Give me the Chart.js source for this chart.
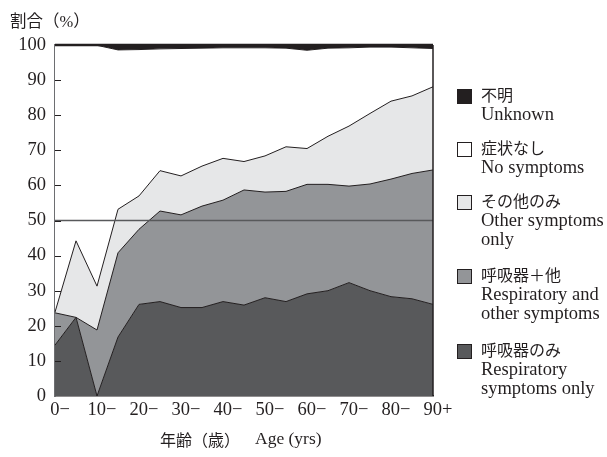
<!DOCTYPE html>
<html>
<head>
<meta charset="utf-8">
<script src="https://cdn.jsdelivr.net/npm/chart.js@4.4.1/dist/chart.umd.min.js"></script>
<style>
    body { margin: 0; background: #fff; }
    #wrap { position: relative; width: 607px; height: 457px; font-family: "Liberation Serif", "Noto Sans CJK JP", serif; color: #231f20; }
    canvas { position: absolute; left: 0; top: 0; }
    .txt { position: absolute; white-space: nowrap; }
    .legend-item { position: absolute; left: 457px; font-size: 16px; line-height: 18px; }
    .legend-item .box { position: absolute; left: 0; top: 2px; width: 13px; height: 13px; border: 1px solid #231f20; }
    .legend-item .lbl { position: absolute; left: 24px; top: 0; white-space: nowrap; }
    .legend-item .en { font-size: 18.5px; }
</style>
</head>
<body>
<div id="wrap">
    <canvas id="chart" width="607" height="457"></canvas>
    <div class="txt" style="left:10px; top:8px; font-size:16.5px;">割合（%）</div>
    <div class="txt" style="left:160px; top:427px; font-size:16px;">年齢（歳）</div>
    <div class="txt" style="left:255px; top:428px; font-size:17.5px;">Age (yrs)</div>
    <div id="legend"></div>
</div>
<script>
// Age groups (5-year bands)
const ages = ['0−', '5−', '10−', '15−', '20−', '25−', '30−', '35−', '40−', '45−',
              '50−', '55−', '60−', '65−', '70−', '75−', '80−', '85−', '90+'];

// Share of each symptom category (%), bottom layer first
const respiratoryOnly = [14.5, 22.4, 0.0, 16.8, 26.1, 26.9, 25.2, 25.2, 26.9, 25.9,
                         28.0, 26.9, 29.1, 30.0, 32.3, 30.0, 28.3, 27.7, 26.1];
const respiratoryOther = [9.2, 0.0, 18.8, 24.0, 21.4, 25.8, 26.4, 28.9, 28.9, 32.8,
                          30.1, 31.4, 31.2, 30.3, 27.5, 30.4, 33.5, 35.7, 38.3];
const otherOnly = [0.2, 21.8, 12.5, 12.4, 9.5, 11.5, 11.1, 11.4, 11.9, 8.1,
                   10.3, 12.7, 10.2, 13.7, 17.1, 20.1, 22.2, 22.1, 23.7];
const noSymptoms = [76.0, 55.7, 68.6, 45.4, 41.7, 34.7, 36.3, 33.6, 31.5, 32.4,
                    30.8, 28.1, 28.0, 25.1, 22.3, 18.9, 15.4, 13.7, 10.9];
const unknown = [0.1, 0.1, 0.1, 1.4, 1.3, 1.1, 1.0, 0.9, 0.8, 0.8,
                 0.8, 0.9, 1.5, 0.9, 0.8, 0.6, 0.6, 0.8, 1.0];

const yTicks = [0, 10, 20, 30, 40, 50, 60, 70, 80, 90, 100];

const colors = {
    black: '#231f20',
    dark: '#58595b',
    mid: '#939598',
    light: '#e6e7e8',
    white: '#ffffff'
};

// Legend entries, top to bottom (Japanese line + English lines)
const legendItems = [
    { jp: '不明', en: ['Unknown'], color: colors.black, top: 87 },
    { jp: '症状なし', en: ['No symptoms'], color: colors.white, top: 140 },
    { jp: 'その他のみ', en: ['Other symptoms', 'only'], color: colors.light, top: 193 },
    { jp: '呼吸器＋他', en: ['Respiratory and', 'other symptoms'], color: colors.mid, top: 267 },
    { jp: '呼吸器のみ', en: ['Respiratory', 'symptoms only'], color: colors.dark, top: 342 }
];

const legendEl = document.getElementById('legend');
legendItems.forEach(item => {
    const div = document.createElement('div');
    div.className = 'legend-item';
    div.style.top = item.top + 'px';
    div.innerHTML = '<div class="box" style="background:' + item.color + '"></div>' +
        '<div class="lbl">' + item.jp + '<br><span class="en">' + item.en.join('<br>') + '</span></div>';
    legendEl.appendChild(div);
});

function layer(label, data, color, fill) {
    return {
        label: label,
        data: data,
        backgroundColor: color,
        borderColor: colors.black,
        borderWidth: 1,
        pointRadius: 0,
        tension: 0,
        fill: fill
    };
}

// Inner tick marks, the 50% reference line and the frame
const framePlugin = {
    id: 'frame',
    afterDatasetsDraw(chart) {
        const { ctx, chartArea: a, scales: { y } } = chart;
        ctx.save();
        ctx.strokeStyle = '#58595b';
        ctx.lineWidth = 1.5;
        const y50 = y.getPixelForValue(50);
        ctx.beginPath();
        ctx.moveTo(a.left, y50);
        ctx.lineTo(a.right, y50);
        ctx.stroke();

        ctx.strokeStyle = colors.black;
        ctx.lineWidth = 1;
        yTicks.forEach(v => {
            if (v === 0 || v === 100) return;
            const py = Math.round(y.getPixelForValue(v)) + 0.5;
            ctx.beginPath();
            ctx.moveTo(a.left, py);
            ctx.lineTo(a.left + 6, py);
            ctx.stroke();
        });

        ctx.lineWidth = 1.5;
        ctx.beginPath();
        ctx.moveTo(a.right, a.top);
        ctx.lineTo(a.right, a.bottom);
        ctx.stroke();

        ctx.lineWidth = 2.5;
        ctx.beginPath();
        ctx.moveTo(a.left, a.top);
        ctx.lineTo(a.right, a.top);
        ctx.stroke();
        ctx.restore();
    }
};

const tickFont = { family: '"Liberation Serif", serif', size: 18.5 };

new Chart(document.getElementById('chart').getContext('2d'), {
    type: 'line',
    data: {
        labels: ages,
        datasets: [
            layer('呼吸器のみ', respiratoryOnly, colors.dark, 'origin'),
            layer('呼吸器＋他', respiratoryOther, colors.mid, '-1'),
            layer('その他のみ', otherOnly, colors.light, '-1'),
            layer('症状なし', noSymptoms, colors.white, '-1'),
            layer('不明', unknown, colors.black, '-1')
        ]
    },
    options: {
        responsive: false,
        animation: false,
        layout: { padding: { top: 45, right: 174, left: 0, bottom: 0 } },
        plugins: {
            legend: { display: false },
            tooltip: { enabled: false }
        },
        scales: {
            x: {
                stacked: true,
                grid: { display: false, drawTicks: false },
                border: { display: true, color: colors.black, width: 1.5 },
                ticks: {
                    autoSkip: false,
                    maxRotation: 0,
                    padding: 3,
                    labelOffset: 5,
                    color: colors.black,
                    font: tickFont,
                    callback: function(value, index) {
                        return index % 2 === 0 ? ages[index] : '';
                    }
                },
                afterFit: function(scale) { scale.height = 61; }
            },
            y: {
                stacked: true,
                min: 0,
                max: 100,
                grid: { display: false, drawTicks: false },
                border: { display: true, color: '#6d6e71', width: 2 },
                afterBuildTicks: function(scale) {
                    scale.ticks = yTicks.map(v => ({ value: v }));
                },
                ticks: {
                    padding: 9,
                    color: colors.black,
                    font: tickFont
                },
                afterFit: function(scale) { scale.width = 55; }
            }
        }
    },
    plugins: [framePlugin]
});
</script>
</body>
</html>
